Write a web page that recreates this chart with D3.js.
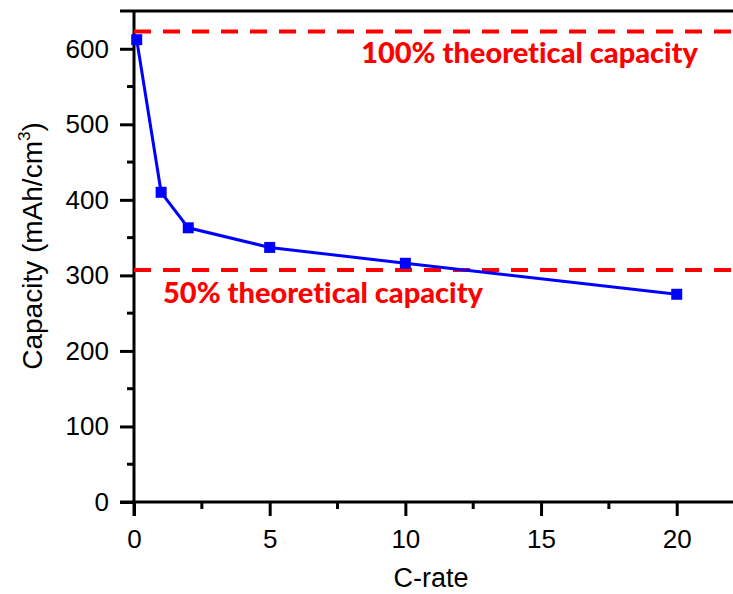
<!DOCTYPE html>
<html>
<head>
<meta charset="utf-8">
<script src="https://cdn.jsdelivr.net/npm/d3@7"></script>
<style>
  html, body { margin: 0; padding: 0; background: #fff; }
  svg { display: block; }
</style>
</head>
<body>
<svg id="chart" width="733" height="594"></svg>
<script>
// Rate capability: volumetric capacity at each C-rate
const cRates = [0.1, 1, 2, 5, 10, 20];
const capacities = [612, 410, 363, 337, 316, 275];

// Reference capacity levels
const refLevels = [623, 307];
const refLabels = ["100% theoretical capacity", "50% theoretical capacity"];

const xTicks = [0, 5, 10, 15, 20];
const yTicks = [0, 100, 200, 300, 400, 500, 600];

const W = 733, H = 594;
const margin = { left: 134, right: 2, top: 11, bottom: 92 };

const svg = d3.select("#chart");

const x = d3.scaleLinear().domain([0, 22]).range([margin.left, W - margin.right]);
const y = d3.scaleLinear().domain([0, 650]).range([H - margin.bottom, margin.top]);

const axisFont = "Arial, 'Liberation Sans', sans-serif";

// Minor ticks
const xMinor = d3.range(2.5, 22, 5);
const yMinor = d3.range(50, 650, 100);

// Bottom axis
const xAxis = svg.append("g")
  .attr("transform", `translate(0,${y(0)})`)
  .call(d3.axisBottom(x).tickValues(xTicks).tickSize(14).tickPadding(14).tickFormat(d3.format("d")));
xAxis.append("g").selectAll("line").data(xMinor).join("line")
  .attr("x1", d => x(d)).attr("x2", d => x(d))
  .attr("y1", 0).attr("y2", 7)
  .attr("stroke", "#000").attr("stroke-width", 3);

// Left axis
const yAxis = svg.append("g")
  .attr("transform", `translate(${x(0)},0)`)
  .call(d3.axisLeft(y).tickValues(yTicks).tickSize(14).tickPadding(11).tickFormat(d3.format("d")));
yAxis.append("g").selectAll("line").data(yMinor).join("line")
  .attr("y1", d => y(d)).attr("y2", d => y(d))
  .attr("x1", 0).attr("x2", -7)
  .attr("stroke", "#000").attr("stroke-width", 3);

[xAxis, yAxis].forEach(g => {
  g.attr("font-size", null).attr("font-family", null);
  g.select(".domain").attr("stroke", "#000").attr("stroke-width", 3);
  g.selectAll(".tick line").attr("stroke", "#000").attr("stroke-width", 3);
  g.selectAll(".tick text")
    .attr("fill", "#000")
    .style("font-family", axisFont)
    .style("font-size", "26px");
});
// Extend the axis lines to cover the corner
xAxis.select(".domain").attr("d", `M${x(0) - 14},0H${W}`);
yAxis.select(".domain").attr("d", `M0,${y(0) + 14}V${margin.top}`);

// Top frame line
svg.append("line")
  .attr("x1", x(0) - 14).attr("x2", W)
  .attr("y1", margin.top).attr("y2", margin.top)
  .attr("stroke", "#000").attr("stroke-width", 3);

// Axis titles
svg.append("text")
  .attr("x", 431)
  .attr("y", 587)
  .attr("text-anchor", "middle")
  .style("font-family", axisFont)
  .style("font-size", "27px")
  .text("C-rate");

const yTitle = svg.append("text")
  .attr("transform", `translate(42,246) rotate(-90)`)
  .attr("text-anchor", "middle")
  .style("font-family", axisFont)
  .style("font-size", "28px");
yTitle.append("tspan").text("Capacity (mAh/cm");
yTitle.append("tspan").attr("dy", -12).style("font-size", "17px").text("3");
yTitle.append("tspan").attr("dy", 12).text(")");

// Reference dashed lines
svg.append("g").selectAll("line").data(refLevels).join("line")
  .attr("x1", x(0)).attr("x2", W)
  .attr("y1", d => y(d)).attr("y2", d => y(d))
  .attr("stroke", "#ff0000").attr("stroke-width", 4)
  .attr("stroke-dasharray", "17,12");

// Reference labels
const labelFont = "Lato, 'Open Sans', sans-serif";
svg.append("text")
  .attr("x", 698).attr("y", y(refLevels[0]) + 32)
  .attr("text-anchor", "end")
  .attr("fill", "#ff0000")
  .style("font-family", labelFont).style("font-weight", "900").style("font-size", "29px")
  .style("font-variant-ligatures", "none")
  .text(refLabels[0]);
svg.append("text")
  .attr("x", 163).attr("y", y(refLevels[1]) + 33)
  .attr("text-anchor", "start")
  .attr("fill", "#ff0000")
  .style("font-family", labelFont).style("font-weight", "900").style("font-size", "29px")
  .style("font-variant-ligatures", "none")
  .text(refLabels[1]);

// Data series
const pts = cRates.map((c, i) => [c, capacities[i]]);
svg.append("path")
  .datum(pts)
  .attr("fill", "none")
  .attr("stroke", "#0000ff")
  .attr("stroke-width", 3)
  .attr("d", d3.line().x(d => x(d[0])).y(d => y(d[1])));

const ms = 11;
svg.append("g").selectAll("rect").data(pts).join("rect")
  .attr("x", d => x(d[0]) - ms / 2)
  .attr("y", d => y(d[1]) - ms / 2)
  .attr("width", ms).attr("height", ms)
  .attr("fill", "#0000ff");
</script>
</body>
</html>
